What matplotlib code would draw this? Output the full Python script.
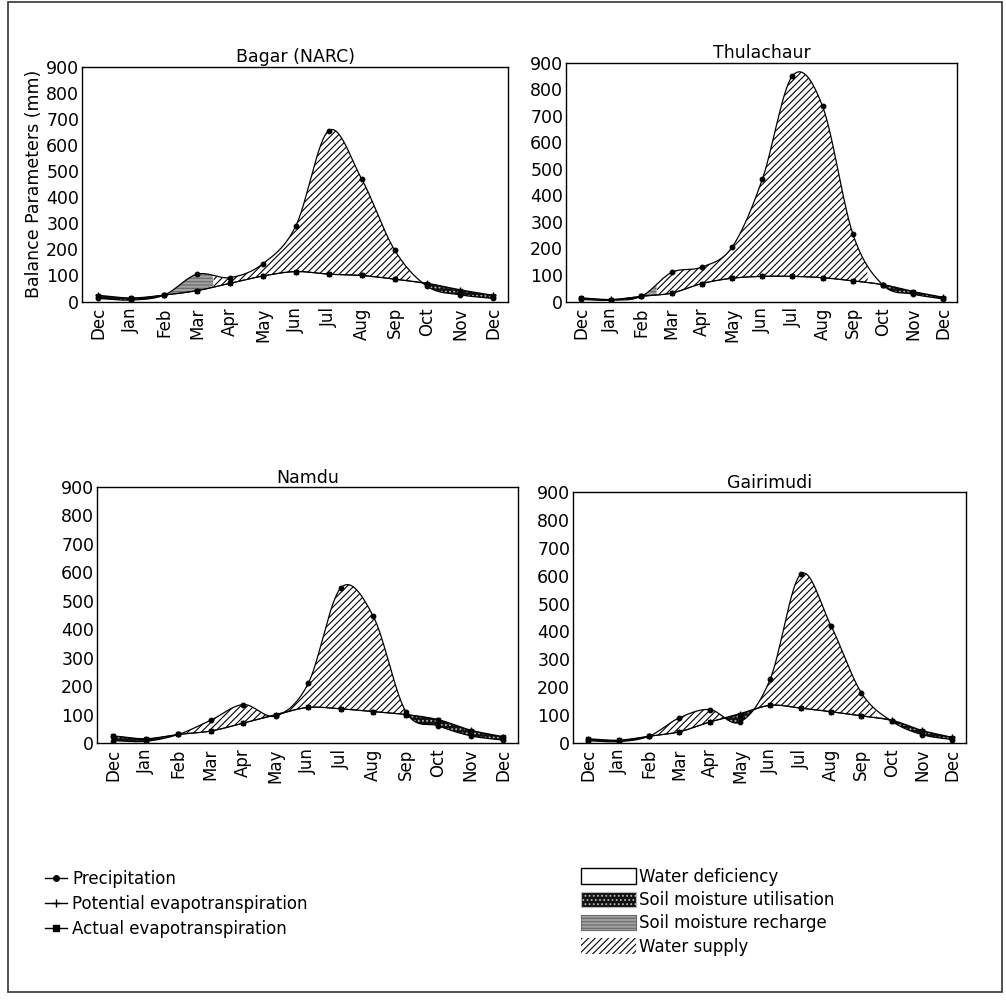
import numpy as np
import matplotlib
matplotlib.use('Agg')
import matplotlib.pyplot as plt
from matplotlib.lines import Line2D
from matplotlib.patches import Patch, Rectangle

plt.rcParams['font.family'] = ['DejaVu Sans']
plt.rcParams['hatch.linewidth'] = 0.8

months = ['Dec', 'Jan', 'Feb', 'Mar', 'Apr', 'May', 'Jun', 'Jul', 'Aug', 'Sep', 'Oct', 'Nov', 'Dec']
yticks = list(range(0, 901, 100))

stations = ['Bagar (NARC)', 'Thulachaur', 'Namdu', 'Gairimudi']

# monthly values (mm), Dec .. Dec
bagar_p = [12, 6, 25, 105, 92, 145, 290, 655, 470, 198, 58, 26, 12]
bagar_pet = [24, 14, 25, 42, 70, 98, 115, 105, 100, 86, 70, 45, 24]
bagar_aet = [22, 12, 25, 42, 70, 98, 115, 105, 100, 86, 68, 42, 22]
bagar_zone = 'UURRSSSSSSUUU'

thul_p = [8, 5, 20, 110, 130, 205, 460, 850, 735, 255, 62, 28, 10]
thul_pet = [14, 8, 20, 32, 68, 88, 95, 95, 90, 78, 64, 38, 16]
thul_aet = [13, 7, 20, 32, 68, 88, 95, 95, 90, 78, 63, 36, 15]
thul_zone = 'UURSSSSSSSUUU'

namdu_p = [8, 6, 30, 80, 135, 95, 210, 545, 445, 110, 60, 25, 10]
namdu_pet = [25, 15, 30, 42, 70, 100, 125, 120, 110, 100, 82, 45, 22]
namdu_aet = [24, 14, 30, 42, 70, 98, 125, 120, 110, 100, 80, 43, 21]
namdu_zone = 'UUSSSSSSSSUUU'

gairi_p = [8, 5, 24, 90, 120, 75, 230, 605, 420, 180, 78, 30, 12]
gairi_pet = [15, 10, 24, 40, 75, 105, 135, 125, 112, 97, 82, 45, 20]
gairi_aet = [14, 9, 24, 40, 75, 102, 135, 125, 112, 97, 80, 43, 19]
gairi_zone = 'UUSSSSSSSSUUU'

series = [
    (bagar_p, bagar_pet, bagar_aet, bagar_zone),
    (thul_p, thul_pet, thul_aet, thul_zone),
    (namdu_p, namdu_pet, namdu_aet, namdu_zone),
    (gairi_p, gairi_pet, gairi_aet, gairi_zone),
]

# axes boxes in figure fractions [left, bottom, width, height]
boxes = [
    [0.0815, 0.699, 0.4235, 0.2345],
    [0.5626, 0.699, 0.3887, 0.2385],
    [0.0964, 0.2585, 0.4185, 0.2555],
    [0.5696, 0.2585, 0.3907, 0.2505],
]

c_supply = dict(facecolor='white', edgecolor='black', hatch='/////')
c_util = dict(facecolor='#111111', edgecolor='#b8b8b8', hatch='....')
c_rech = dict(facecolor='#a0a0a0', edgecolor='#6a6a6a', hatch='-----')
c_def = dict(facecolor='white', edgecolor='black')


def smooth(v, n=30):
    # Catmull-Rom curve through the monthly points
    v = np.asarray(v, float)
    p = np.concatenate([[2 * v[0] - v[1]], v, [2 * v[-1] - v[-2]]])
    t = np.linspace(0, 1, n, endpoint=False)
    xs, ys = [], []
    for i in range(len(v) - 1):
        p0, p1, p2, p3 = p[i:i + 4]
        y = 0.5 * (2 * p1 + (-p0 + p2) * t + (2 * p0 - 5 * p1 + 4 * p2 - p3) * t ** 2
                   + (-p0 + 3 * p1 - 3 * p2 + p3) * t ** 3)
        xs.append(i + t)
        ys.append(y)
    xs.append([len(v) - 1])
    ys.append([v[-1]])
    return np.concatenate(xs), np.clip(np.concatenate(ys), 0, None)


fig = plt.figure(figsize=(10.06, 10.02), dpi=100)
fig.patch.set_facecolor('white')

for k, (name, (p, pet, aet, zone), box) in enumerate(zip(stations, series, boxes)):
    ax = fig.add_axes(box)
    x, ps = smooth(p)
    _, pets = smooth(pet)
    _, aets = smooth(aet)
    z = np.array(list(zone))[np.rint(x).astype(int)]
    wet = ps >= pets
    ax.fill_between(x, pets, ps, where=wet & (z == 'S'), interpolate=True, lw=0, **c_supply)
    ax.fill_between(x, pets, ps, where=wet & (z == 'R'), interpolate=True, lw=0, **c_rech)
    ax.fill_between(x, ps, aets, where=aets > ps, interpolate=True, lw=0, **c_util)
    ax.fill_between(x, aets, pets, where=pets > aets, interpolate=True, lw=0, facecolor='white')

    xm = np.arange(len(months))
    ax.plot(x, ps, color='black', lw=0.9)
    ax.plot(x, pets, color='black', lw=0.9)
    ax.plot(x, aets, color='black', lw=0.7)
    ax.plot(xm, p, 'o', color='black', ms=3.2)
    ax.plot(xm, pet, '+', color='black', ms=5, mew=1)
    ax.plot(xm, aet, 's', color='black', ms=2.6)

    ax.set_xlim(-0.5, 12.45)
    ax.set_ylim(0, 900)
    ax.set_yticks(yticks)
    ax.set_xticks(xm)
    ax.set_xticklabels(months, rotation=90, fontsize=12)
    ax.tick_params(axis='y', labelsize=12.5, length=0, pad=2)
    ax.tick_params(axis='x', length=0, pad=4)
    for s in ax.spines.values():
        s.set_linewidth(1.0)
    ax.set_title(name, fontsize=12.5, pad=3)
    if k == 0:
        ax.set_ylabel('Balance Parameters (mm)', fontsize=12.5, labelpad=2)

# legends
line_handles = [
    Line2D([], [], color='black', lw=1, marker='o', ms=4, label='Precipitation'),
    Line2D([], [], color='black', lw=1, marker='+', ms=6, label='Potential evapotranspiration'),
    Line2D([], [], color='black', lw=1, marker='s', ms=4, label='Actual evapotranspiration'),
]
fig.legend(handles=line_handles, loc='upper left', bbox_to_anchor=(0.045, 0.132),
           frameon=False, fontsize=12, handlelength=1.3, handletextpad=0.3,
           labelspacing=0.42, borderpad=0, borderaxespad=0)

patch_handles = [
    Patch(label='Water deficiency', lw=1, **c_def),
    Patch(label='Soil moisture utilisation', lw=0.8, **c_util),
    Patch(label='Soil moisture recharge', lw=0.8, **c_rech),
    Patch(label='Water supply', lw=0, **c_supply),
]
fig.legend(handles=patch_handles, loc='upper left', bbox_to_anchor=(0.578, 0.134),
           frameon=False, fontsize=12, handlelength=3.3, handleheight=1.05,
           handletextpad=0.15, labelspacing=0.32, borderpad=0, borderaxespad=0)

fig.add_artist(Rectangle((0.008, 0.01), 0.988, 0.988, transform=fig.transFigure,
                         fill=False, lw=1.2, ec='#333333'))

fig.savefig('out.png', dpi=100, facecolor='white')
